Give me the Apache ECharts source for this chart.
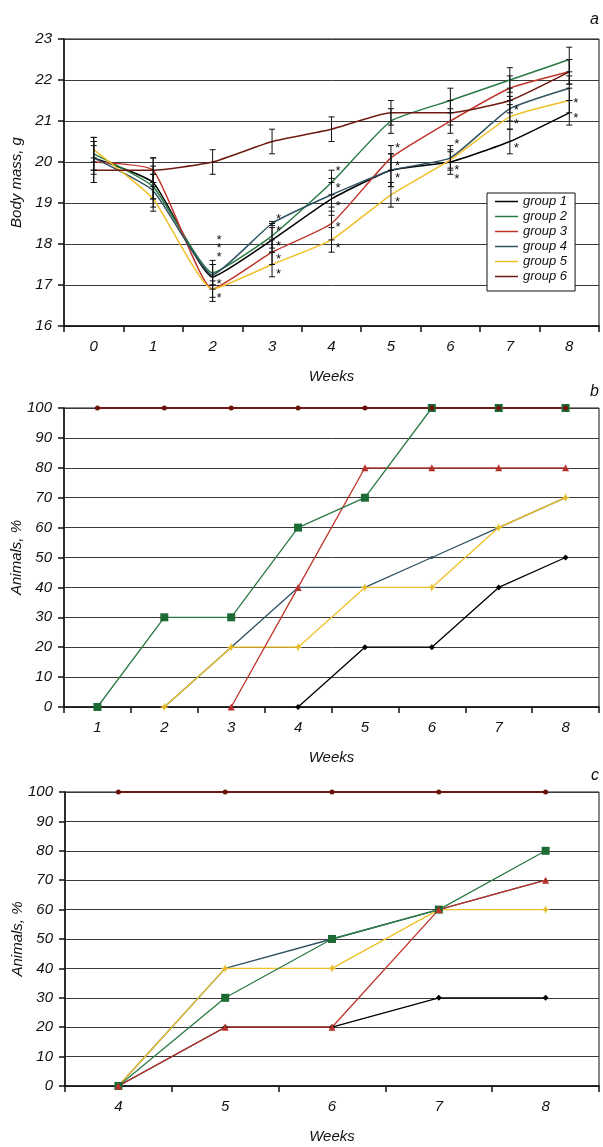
<!DOCTYPE html>
<html>
<head>
<meta charset="utf-8">
<script src="https://cdn.jsdelivr.net/npm/echarts@6/dist/echarts.min.js"></script>
<style>
html,body{margin:0;padding:0;background:#fff;}
#chart{width:603px;height:1147px;}
</style>
</head>
<body>
<div id="chart"></div>
<script>
// ---------- DATA ----------
const groupNames = ['group 1','group 2','group 3','group 4','group 5','group 6'];
const colors = ['#000000','#2a7a44','#c0352b','#2f5263','#efc02a','#6e1a10'];

// Panel a: body mass, g (weeks 0..8)
const weeksA = ['0','1','2','3','4','5','6','7','8'];
const massG1 = [20.1, 19.5, 17.2, 18.1, 19.1, 19.8, 20.0, 20.5, 21.2];
const massG2 = [20.2, 19.4, 17.3, 18.2, 19.5, 21.0, 21.5, 22.0, 22.5];
const massG3 = [20.0, 19.8, 16.9, 17.8, 18.5, 20.1, 21.0, 21.8, 22.2];
const massG4 = [20.1, 19.3, 17.25, 18.5, 19.2, 19.8, 20.1, 21.3, 21.8];
const massG5 = [20.3, 19.1, 16.9, 17.5, 18.1, 19.2, 20.05, 21.1, 21.5];
const massG6 = [19.8, 19.8, 20.0, 20.5, 20.8, 21.2, 21.2, 21.5, 22.2];
// error bar half-widths
const sdG1 = [0.4, 0.4, 0.3, 0.3, 0.4, 0.4, 0.3, 0.3, 0.3];
const sdG2 = [0.4, 0.3, 0.3, 0.3, 0.3, 0.3, 0.3, 0.3, 0.3];
const sdG3 = [0.5, 0.3, 0.3, 0.3, 0.4, 0.3, 0.3, 0.3, 0.3];
const sdG4 = [0.3, 0.4, 0.25, 0.05, 0.4, 0.4, 0.3, 0.3, 0.3];
const sdG5 = [0.3, 0.3, 0.2, 0.3, 0.3, 0.3, 0.2, 0.3, 0.3];
const sdG6 = [0.3, 0.3, 0.3, 0.3, 0.3, 0.3, 0.3, 0.3, 0.3];
// significance asterisks [week index, value]
const asterisks = [[2,18.17],[2,17.97],[2,17.75],[2,17.09],[2,16.75],
  [3,18.67],[3,18.39],[3,18.02],[3,17.7],[3,17.32],
  [4,19.85],[4,19.43],[4,18.98],[4,18.48],[4,17.97],
  [5,20.41],[5,19.96],[5,19.67],[5,19.1],
  [6,20.51],[6,19.88],[6,19.65],
  [7,21.33],[7,21.0],[7,20.41],
  [8,21.5],[8,21.14]];

// Panel b: animals, % (weeks 1..8)
const weeksB = ['1','2','3','4','5','6','7','8'];
const pctB1 = [null, null, null, 0, 20, 20, 40, 50];
const pctB2 = [0, 30, 30, 60, 70, 100, 100, 100];
const pctB3 = [null, null, 0, 40, 80, 80, 80, 80];
const pctB4 = [null, 0, 20, 40, 40, 50, 60, 70];
const pctB5 = [null, 0, 20, 20, 40, 40, 60, 70];
const pctB6 = [100, 100, 100, 100, 100, 100, 100, 100];

// Panel c: animals, % (weeks 4..8)
const weeksC = ['4','5','6','7','8'];
const pctC1 = [0, 20, 20, 30, 30];
const pctC2 = [0, 30, 50, 60, 80];
const pctC3 = [0, 20, 20, 60, 70];
const pctC4 = [0, 40, 50, 60, 70];
const pctC5 = [0, 40, 40, 60, 60];
const pctC6 = [100, 100, 100, 100, 100];

// ---------- STYLE ----------
const FF = "'Liberation Sans', Arial, sans-serif";
const txt = {fontFamily: FF, fontStyle: 'italic', fontSize: 15, color: '#111'};
const starPath = 'path://M0,-10L2.5,-2.5L10,0L2.5,2.5L0,10L-2.5,2.5L-10,0L-2.5,-2.5Z';
const symbols = ['diamond', 'rect', 'triangle', 'circle', starPath, 'circle'];
const symSizes = [6, 8, 7, 3, 9, 5];
const symColors = ['#000000', '#1c6a34', '#b8302a', '#2f5263', '#e8bb22', '#6a140c'];

const grids = [
  {left: 64, right: 4, top: 39, height: 287},
  {left: 64, right: 4, top: 408, height: 299},
  {left: 65, right: 4, top: 792, height: 294}
].map(g => Object.assign(g, {show: true, borderColor: '#111', borderWidth: 1, backgroundColor: 'transparent',
  containLabel: false, outerBoundsMode: 'none'}));

function xAx(gi, cats) {
  return {
    type: 'category', gridIndex: gi, data: cats, boundaryGap: true,
    name: 'Weeks', nameLocation: 'middle', nameGap: 43, nameTextStyle: txt, nameMoveOverlap: false,
    axisLine: {lineStyle: {color: '#111', width: 1.5}},
    axisTick: {show: true, length: 6, lineStyle: {color: '#111', width: 1.5}},
    axisLabel: Object.assign({margin: 13}, txt),
    splitLine: {show: false}
  };
}
function yAx(gi, min, max, interval, name) {
  return {
    type: 'value', gridIndex: gi, min: min, max: max, interval: interval,
    name: name, nameLocation: 'middle', nameGap: 40, nameTextStyle: txt, nameMoveOverlap: false,
    axisLine: {show: true, lineStyle: {color: '#111', width: 1.5}},
    axisTick: {show: true, length: 6, lineStyle: {color: '#111', width: 1.5}},
    axisLabel: Object.assign({margin: 12}, txt),
    splitLine: {show: true, lineStyle: {color: '#3a3a3a', width: 1}}
  };
}

const massData = [massG1, massG2, massG3, massG4, massG5, massG6];
const sdData = [sdG1, sdG2, sdG3, sdG4, sdG5, sdG6];
const series = [];

// Panel a lines
massData.forEach((d, i) => {
  series.push({
    name: groupNames[i], type: 'line', xAxisIndex: 0, yAxisIndex: 0,
    data: d, symbol: 'none', smooth: 0.15,
    lineStyle: {color: colors[i], width: 1.5}, itemStyle: {color: colors[i]},
    z: 2
  });
});
// Panel a error bars
const errData = [];
massData.forEach((d, i) => d.forEach((v, w) => errData.push([w, v - sdData[i][w], v + sdData[i][w]])));
series.push({
  type: 'custom', xAxisIndex: 0, yAxisIndex: 0, data: errData, z: 5, silent: true,
  renderItem: function (params, api) {
    const lo = api.coord([api.value(0), api.value(1)]);
    const hi = api.coord([api.value(0), api.value(2)]);
    const st = {stroke: '#111', lineWidth: 1};
    return {type: 'group', children: [
      {type: 'line', shape: {x1: lo[0], y1: lo[1], x2: hi[0], y2: hi[1]}, style: st},
      {type: 'line', shape: {x1: lo[0] - 3, y1: lo[1], x2: lo[0] + 3, y2: lo[1]}, style: st},
      {type: 'line', shape: {x1: hi[0] - 3, y1: hi[1], x2: hi[0] + 3, y2: hi[1]}, style: st}
    ]};
  }
});
// Panel a asterisks
series.push({
  type: 'custom', xAxisIndex: 0, yAxisIndex: 0, data: asterisks, z: 6, silent: true,
  renderItem: function (params, api) {
    const p = api.coord([api.value(0), api.value(1)]);
    return {type: 'text', style: {text: '*', x: p[0] + 6, y: p[1] + 3, align: 'center', verticalAlign: 'middle',
      font: 'italic 13px ' + FF, fill: '#111'}};
  }
});

// Panels b and c lines
function addPanel(axisIdx, arrs, order) {
  order.forEach(i => {
    series.push({
      name: 'p' + axisIdx + '_' + i, type: 'line', xAxisIndex: axisIdx, yAxisIndex: axisIdx,
      data: arrs[i], symbol: symbols[i], symbolSize: symSizes[i], showSymbol: true,
      lineStyle: {color: colors[i], width: i === 5 ? 2 : 1.3},
      itemStyle: {color: symColors[i], borderWidth: 0},
      connectNulls: false, z: 3
    });
  });
}
addPanel(1, [pctB1, pctB2, pctB3, pctB4, pctB5, pctB6], [3, 4, 0, 2, 1, 5]);
addPanel(2, [pctC1, pctC2, pctC3, pctC4, pctC5, pctC6], [3, 0, 4, 1, 2, 5]);

const option = {
  animation: false,
  backgroundColor: '#fff',
  grid: grids,
  xAxis: [xAx(0, weeksA), xAx(1, weeksB), xAx(2, weeksC)],
  yAxis: [yAx(0, 16, 23, 1, 'Body mass, g'), yAx(1, 0, 100, 10, 'Animals, %'), yAx(2, 0, 100, 10, 'Animals, %')],
  legend: {
    data: groupNames, orient: 'vertical', left: 487, top: 193,
    backgroundColor: '#fff', borderColor: '#111', borderWidth: 1,
    padding: [2, 8, 8, 8], itemWidth: 23, itemHeight: 1.5, itemGap: 2,
    icon: 'rect',
    textStyle: {fontFamily: FF, fontStyle: 'italic', fontSize: 13, color: '#111', lineHeight: 13},
    selectedMode: false
  },
  graphic: [
    {type: 'text', right: 4, top: 12, style: {text: 'a', font: 'italic 16px ' + FF, fill: '#111'}},
    {type: 'text', right: 4, top: 384, style: {text: 'b', font: 'italic 16px ' + FF, fill: '#111'}},
    {type: 'text', right: 4, top: 768, style: {text: 'c', font: 'italic 16px ' + FF, fill: '#111'}}
  ],
  series: series
};

const chart = echarts.init(document.getElementById('chart'), null, {renderer: 'canvas'});
chart.setOption(option);
</script>
</body>
</html>
